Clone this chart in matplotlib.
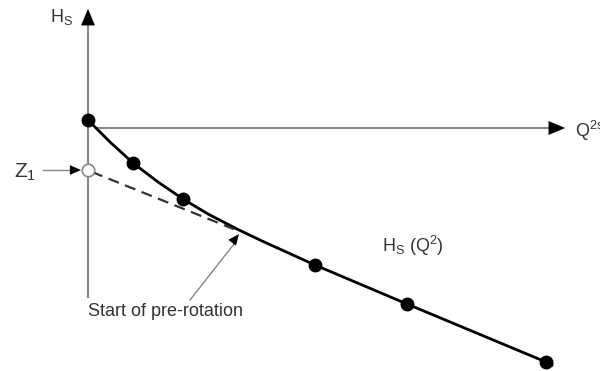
import matplotlib.pyplot as plt

plt.rcParams['font.family'] = ['Liberation Sans', 'DejaVu Sans']
plt.rcParams['mathtext.fontset'] = 'custom'
plt.rcParams['mathtext.rm'] = 'Liberation Sans'

# schematic, in pixel units (x right, y down)
curve_x = [88, 110, 133, 158, 183, 208, 237, 262, 315, 407, 546, 552]
curve_y = [120, 142, 163, 182, 199, 214, 229, 241, 265, 304, 362, 365]
pts_x = [88, 133, 183, 315, 407, 546]
pts_y = [120, 163, 199, 265, 304, 362]
z1 = (88, 170)
tangent_x = [92, 236]
tangent_y = [172, 230]

fig = plt.figure(figsize=(6, 3.71), dpi=100)
ax = fig.add_axes([0, 0, 1, 1])
ax.set_xlim(0, 600)
ax.set_ylim(371, 0)
ax.axis('off')

grey = '#888888'
txt = '#333333'
# axes
ax.plot([88, 88], [297, 20], color=grey, lw=1.5, zorder=1)
ax.plot([96, 552], [128, 128], color=grey, lw=1.5, zorder=1)
ax.annotate('', xy=(88, 6), xytext=(88, 24),
            arrowprops=dict(arrowstyle='-|>,head_width=0.5,head_length=1.2',
                            color='black', lw=0))
ax.annotate('', xy=(568, 128), xytext=(549, 128),
            arrowprops=dict(arrowstyle='-|>,head_width=0.5,head_length=1.2',
                            color='black', lw=0))

# curve, tangent, points
ax.plot(curve_x, curve_y, color='black', lw=2, zorder=2)
ax.plot(tangent_x, tangent_y, color='#333333', lw=1.6, ls=(0, (5, 3)), zorder=2)
ax.plot(pts_x, pts_y, 'o', color='black', ms=9, zorder=3)
ax.plot([z1[0]], [z1[1]], 'o', mfc='white', mec=grey, mew=1.2, ms=9, zorder=3)

# Z1 arrow
ax.plot([43, 74], [170, 170], color=grey, lw=1, zorder=1)
ax.annotate('', xy=(81, 170), xytext=(70, 170),
            arrowprops=dict(arrowstyle='-|>,head_width=0.35,head_length=0.8',
                            color='black', lw=0, shrinkA=0, shrinkB=0))

# start of pre-rotation arrow
ax.plot([190, 234], [300, 244], color=grey, lw=1, zorder=1)
ax.annotate('', xy=(239, 234), xytext=(228, 248),
            arrowprops=dict(arrowstyle='-|>,head_width=0.35,head_length=0.8',
                            color='black', lw=0, shrinkA=0, shrinkB=0))

fs = 13
ax.text(50, 17, 'H$_\\mathregular{S}$', fontsize=fs, va='center', ha='left', color=txt)
ax.text(575, 131, 'Q$^\\mathregular{2s}$', fontsize=fs, va='center', ha='left', color=txt)
ax.text(14, 172, 'Z$_\\mathregular{1}$', fontsize=15, va='center', ha='left', color=txt)
ax.text(382, 246, 'H$_\\mathregular{S}$ (Q$^\\mathregular{2}$)', fontsize=fs, va='center', ha='left', color=txt)
ax.text(88, 312, 'Start of pre-rotation', fontsize=fs, va='center', ha='left', color=txt)

fig.savefig('out.png', dpi=100)
